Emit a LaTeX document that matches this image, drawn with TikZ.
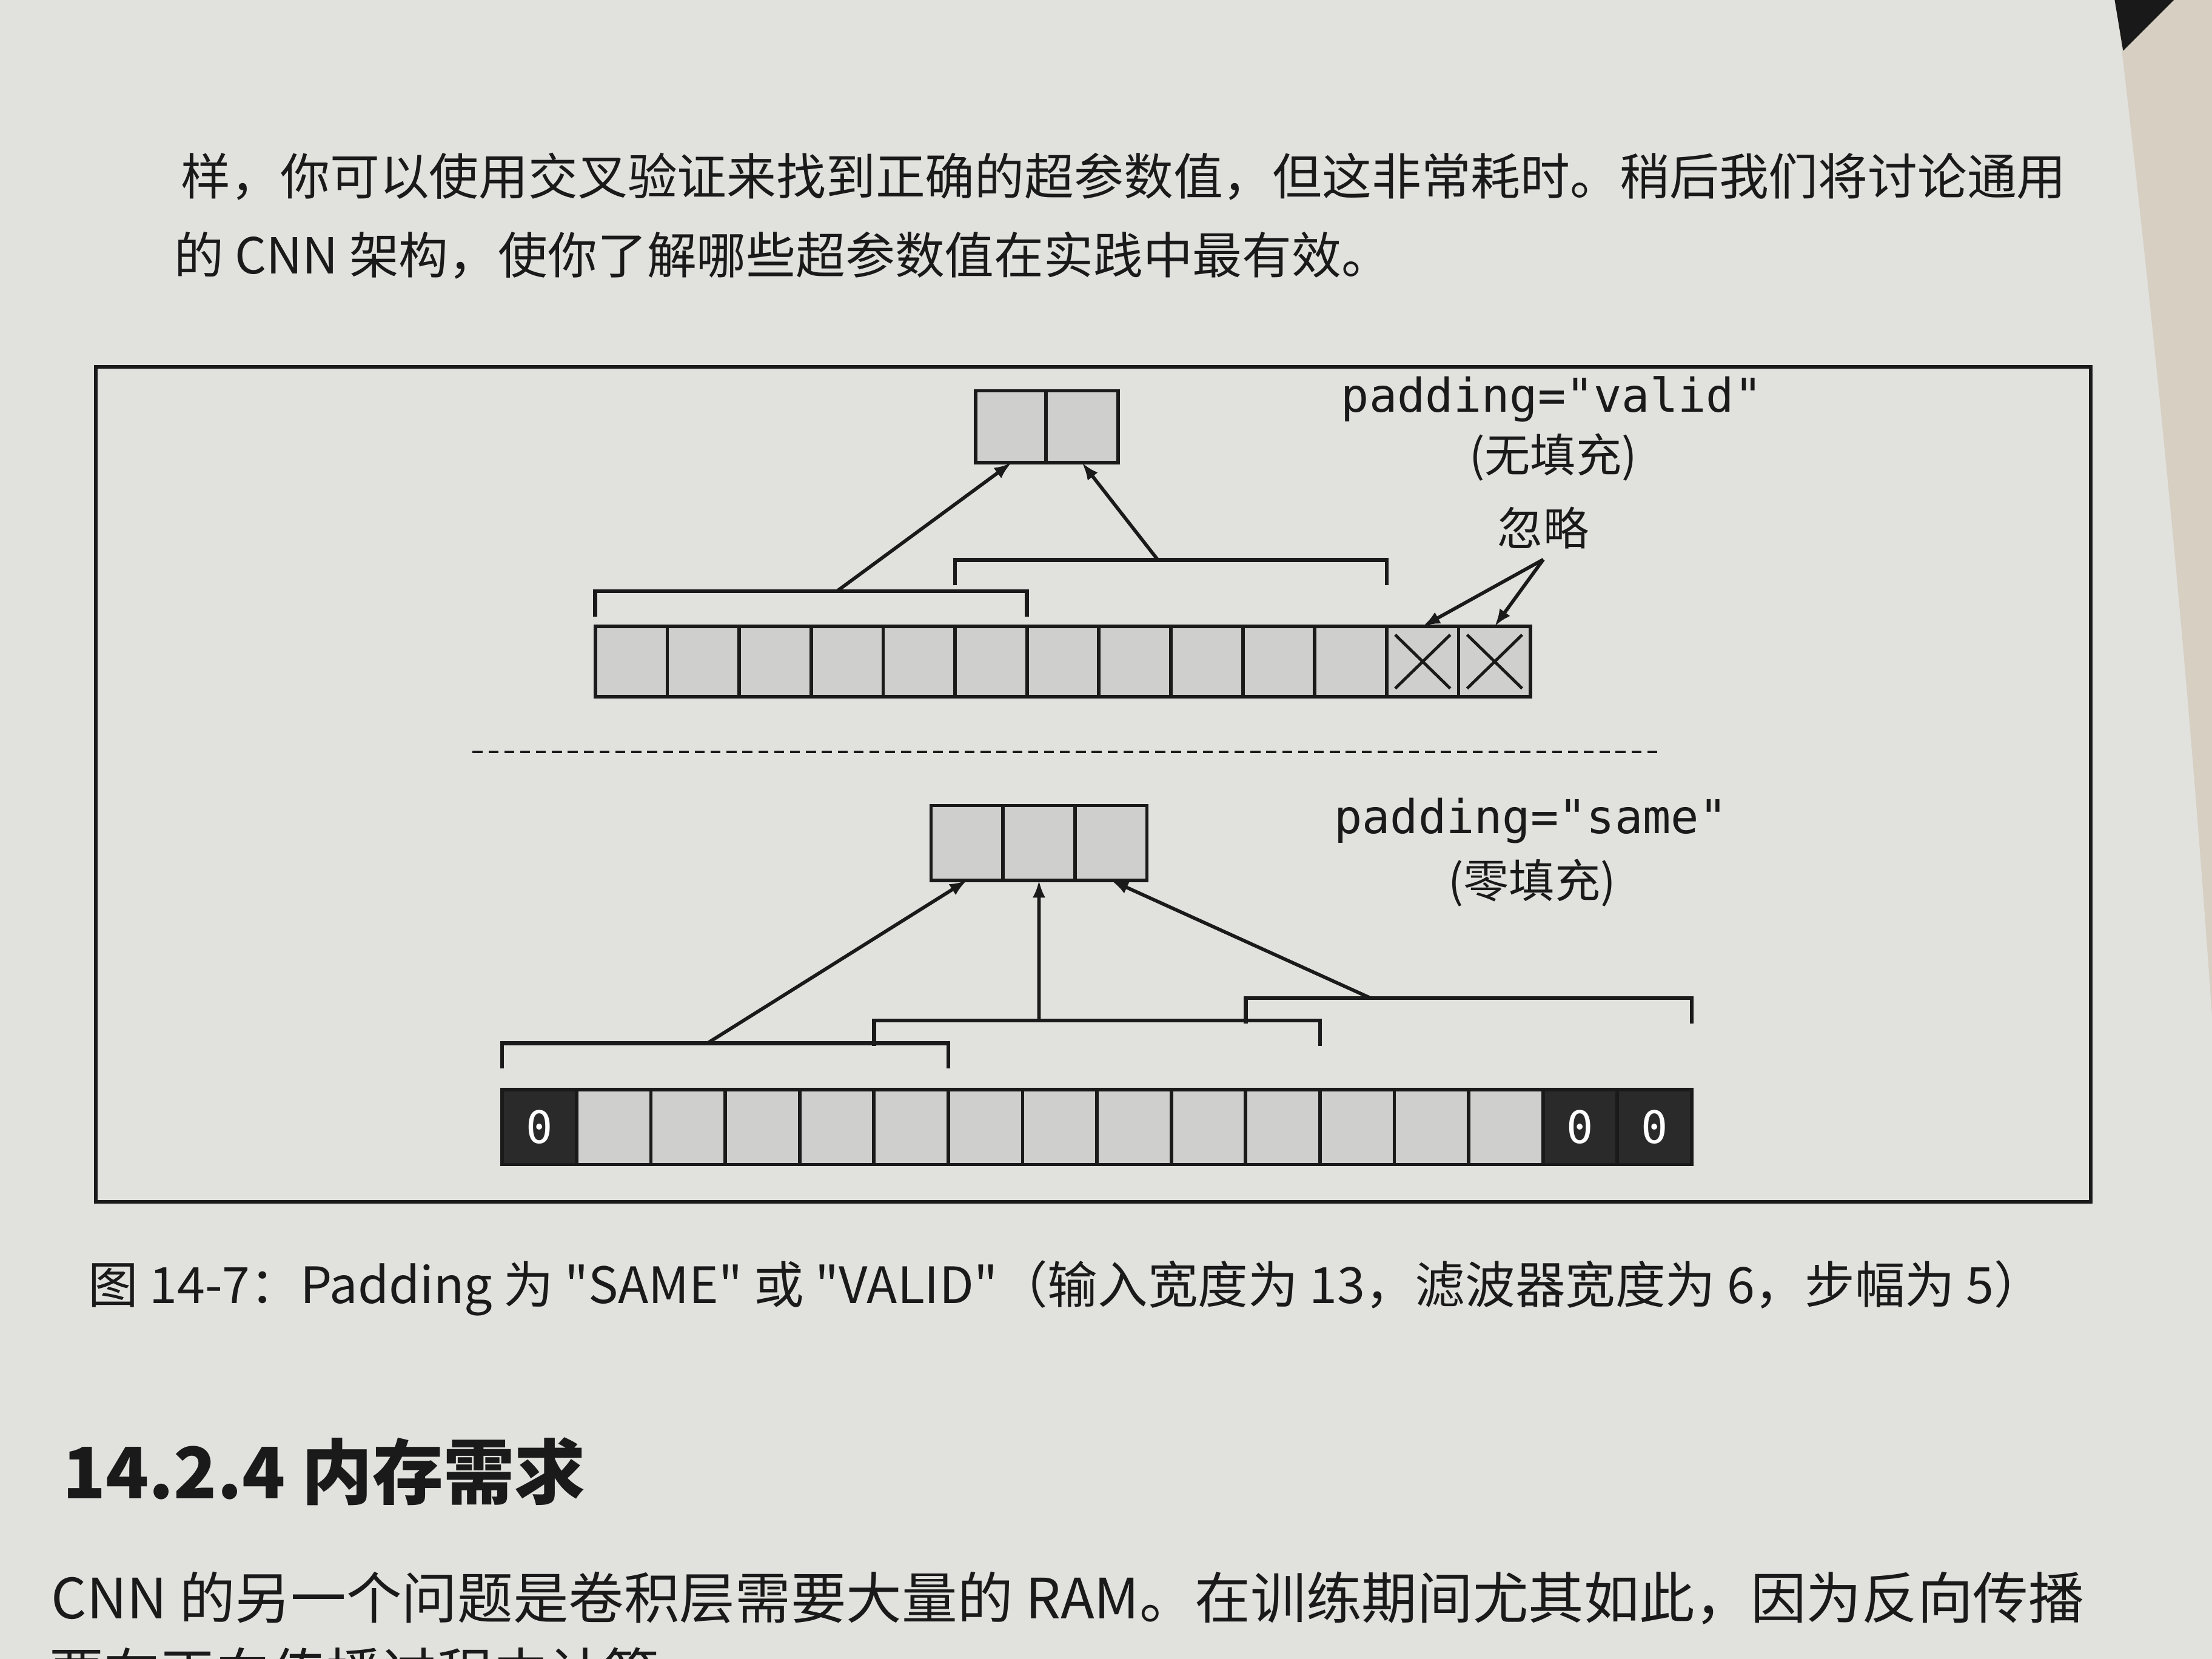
\documentclass[tikz,border=0pt]{standalone}
\usepackage{fontspec}
\usepackage{tikz}
\usetikzlibrary{arrows.meta,calc}
\newfontfamily\cjk{Noto Sans CJK SC}
\newfontfamily\codefont{DejaVu Sans Mono}
\definecolor{paper}{RGB}{225,225,222}
\definecolor{cellgray}{RGB}{207,207,205}
\definecolor{zerofill}{RGB}{42,42,42}
\definecolor{ink}{RGB}{26,26,26}
\definecolor{nextpage}{RGB}{214,207,194}

\begin{document}
\begin{tikzpicture}[x=0.01cm, y=-0.01cm,
  vcell/.style={draw=ink, line width=0.7pt, fill=cellgray, minimum width=0.51cm, minimum height=0.5cm, inner sep=0pt, outer sep=0pt},
  scell/.style={draw=ink, line width=0.7pt, fill=cellgray, minimum width=0.527cm, minimum height=0.53cm, inner sep=0pt, outer sep=0pt, font=\codefont\fontsize{9}{10}\selectfont},
  bracket/.style={ink, line width=0.8pt},
  arr/.style={ink, line width=0.7pt, -{Latex[length=3.5pt,width=2.6pt]}},
  label/.style={text=ink, inner sep=2pt}]
\useasboundingbox (0,0) rectangle (1568,1176);
\fill[paper] (0,0) rectangle (1568,1176);
% next page at the right edge
\fill[nextpage] (1500,0) .. controls (1528,240) and (1550,460) .. (1568,720) -- (1568,0) -- cycle;
\fill[black!90] (1499,0) -- (1541,0) -- (1505,36) -- cycle;

% text above the figure
\node[anchor=west, text=ink, font=\cjk\fontsize{10}{12}\selectfont] (par1) at (116,125) {样，你可以使用交叉验证来找到正确的超参数值，但这非常耗时。稍后我们将讨论通用};
\node[anchor=west, text=ink, font=\cjk\fontsize{10}{12}\selectfont] (par2) at (111,181) {的 CNN 架构，使你了解哪些超参数值在实践中最有效。};

% figure frame
\draw[ink, line width=0.8pt] (68,260) rectangle (1482,852);

% padding = valid
\node[vcell, minimum height=0.51cm] (vout0) at (717,302.5) {};
\node[vcell, minimum height=0.51cm] (vout1) at (767,302.5) {};
\foreach \i in {0,...,12}
  \node[vcell] (vin\i) at (447.5+51*\i,469) {};
\foreach \i in {11,12} {
  \draw[ink, line width=0.6pt] ($(vin\i.north west)+(6,6)$) -- ($(vin\i.south east)+(-6,-6)$);
  \draw[ink, line width=0.6pt] ($(vin\i.south west)+(6,-6)$) -- ($(vin\i.north east)+(-6,6)$);
}
\draw[bracket] ($(vin0.north west)+(0,-7)$) -- ($(vin0.north west)+(0,-25)$) -- ($(vin5.north east)+(0,-25)$) -- ($(vin5.north east)+(0,-7)$);
\draw[bracket] ($(vin5.north west)+(0,-29)$) -- ($(vin5.north west)+(0,-47)$) -- ($(vin10.north east)+(0,-47)$) -- ($(vin10.north east)+(0,-29)$);
\coordinate (vb1) at ($(vin0.north west)!0.56!(vin5.north east)+(0,-25)$);
\coordinate (vb2) at ($(vin5.north west)!0.47!(vin10.north east)+(0,-47)$);
\draw[arr] (vb1) -- (vout0.south);
\draw[arr] (vb2) -- (vout1.south);
\node[label, font=\codefont\fontsize{9.4}{11}\selectfont] (vname) at (1100,283) {padding="valid"};
\node[label, font=\cjk\fontsize{9.2}{11}\selectfont] (vnote) at (1101,324) {(无填充)};
\node[label, font=\cjk\fontsize{9.2}{11}\selectfont] (ign) at (1094,374) {忽略};
\draw[arr] (ign.south) -- (vin11.north);
\draw[arr] (ign.south) -- (vin12.north);

% separator
\draw[ink, line width=0.6pt, dash pattern=on 2pt off 1.2pt] (335,533) -- (1175,533);

% padding = same
\foreach \i in {0,1,2}
  \node[vcell, minimum height=0.53cm] (sout\i) at (685.5+51*\i,597.5) {};
\foreach \i in {1,...,13}
  \node[scell] (sin\i) at (382.35+52.7*\i,799) {};
\foreach \i in {0,14,15}
  \node[scell, fill=zerofill, text=white] (sin\i) at (382.35+52.7*\i,799) {0};
\draw[bracket] ($(sin0.north west)+(0,-15)$) -- ($(sin0.north west)+(0,-33)$) -- ($(sin5.north east)+(0,-33)$) -- ($(sin5.north east)+(0,-15)$);
\draw[bracket] ($(sin5.north west)+(0,-31)$) -- ($(sin5.north west)+(0,-49)$) -- ($(sin10.north east)+(0,-49)$) -- ($(sin10.north east)+(0,-31)$);
\draw[bracket] ($(sin10.north west)+(0,-47)$) -- ($(sin10.north west)+(0,-65)$) -- ($(sin15.north east)+(0,-65)$) -- ($(sin15.north east)+(0,-47)$);
\coordinate (sb1) at ($(sin0.north west)!0.46!(sin5.north east)+(0,-33)$);
\coordinate (sb2) at ($(sin5.north west)!0.37!(sin10.north east)+(0,-49)$);
\coordinate (sb3) at ($(sin10.north west)!0.28!(sin15.north east)+(0,-65)$);
\draw[arr] (sb1) -- (sout0.south);
\draw[arr] (sb2) -- (sout1.south);
\draw[arr] (sb3) -- (sout2.south);
\node[label, font=\codefont\fontsize{9.4}{11}\selectfont] (sname) at (1085,582) {padding="same"};
\node[label, font=\cjk\fontsize{9.2}{11}\selectfont] (snote) at (1086,626) {(零填充)};

% caption, heading and text below
\node[anchor=west, text=ink, font=\cjk\fontsize{10.1}{12}\selectfont] (cap) at (50,913) {图 14-7：Padding 为 "SAME" 或 "VALID"（输入宽度为 13，滤波器宽度为 6，步幅为 5）};
\node[anchor=west, text=ink, font=\cjk\bfseries\fontsize{14.3}{17}\selectfont] (sec) at (32,1043) {14.2.4 内存需求};
\node[anchor=west, text=ink, font=\cjk\fontsize{11.2}{13}\selectfont] (body1) at (24,1133) {CNN 的另一个问题是卷积层需要大量的 RAM。在训练期间尤其如此，因为反向传播};
\node[anchor=west, text=ink, font=\cjk\fontsize{11.2}{13}\selectfont] (body2) at (22,1186) {要在正向传播过程中计算};
\end{tikzpicture}
\end{document}
